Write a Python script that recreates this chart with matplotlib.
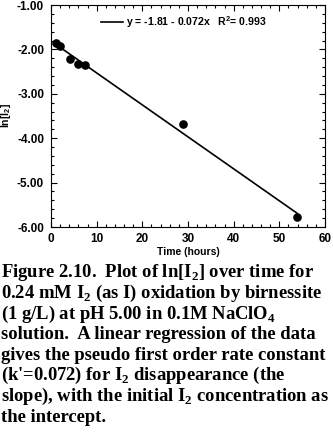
import matplotlib
matplotlib.use("Agg")
import matplotlib.pyplot as plt
import numpy as np
from matplotlib.ticker import MultipleLocator, FormatStrFormatter
from matplotlib.lines import Line2D

# Data
time_h = [1.0, 2.0, 4.2, 6.0, 7.4, 29.0, 53.9]
ln_i2 = [-1.86, -1.93, -2.22, -2.33, -2.36, -3.68, -5.78]
intercept = -1.81
slope = -0.072
fit_x = [1.0, 53.9]
legend_label = "y = -1.81 - 0.072x   R$^\\mathsf{2}$= 0.993"
xticks = [0, 10, 20, 30, 40, 50, 60]
yticks = [-6.0, -5.0, -4.0, -3.0, -2.0, -1.0]

caption_lines = [
    "Figure 2.10.  Plot of ln[I$_\\mathbf{2}$] over time for",
    "0.24 mM I$_\\mathbf{2}$ (as I) oxidation by birnessite",
    "(1 g/L) at pH 5.00 in 0.1M NaClO$_\\mathbf{4}$",
    "solution.  A linear regression of the data",
    "gives the pseudo first order rate constant",
    "(k'=0.072) for I$_\\mathbf{2}$ disappearance (the",
    "slope), with the initial I$_\\mathbf{2}$ concentration as",
    "the intercept.",
]

plt.rcParams['axes.unicode_minus'] = False
plt.rcParams['mathtext.fontset'] = 'custom'
plt.rcParams['mathtext.bf'] = 'Liberation Serif:bold'
plt.rcParams['mathtext.sf'] = 'Liberation Sans:bold'
plt.rcParams['mathtext.rm'] = 'Liberation Sans:bold'

W, H = 333, 437
fig = plt.figure(figsize=(W / 100, H / 100), dpi=100)
ax = fig.add_axes([51 / W, 1 - 227 / H, (325 - 51) / W, (227 - 5) / H])

sans = {'family': 'Liberation Sans', 'weight': 'bold'}

ax.plot(time_h, ln_i2, 'o', color='black', markersize=5.2, zorder=3)
fx = np.array(fit_x)
ax.plot(fx, intercept + slope * fx, color='black', linewidth=1.2)

ax.set_xlim(0, 60)
ax.set_ylim(-6, -1)
ax.set_xticks(xticks)
ax.set_yticks(yticks)
ax.xaxis.set_minor_locator(MultipleLocator(2))
ax.yaxis.set_minor_locator(MultipleLocator(0.2))
ax.yaxis.set_major_formatter(FormatStrFormatter('%.2f'))
ax.xaxis.set_major_formatter(FormatStrFormatter('%d'))
ax.tick_params(which='both', direction='in', top=True, right=True, width=0.8)
ax.tick_params(which='major', length=4)
ax.tick_params(which='minor', length=2)
ax.tick_params(axis='y', pad=5)
ax.tick_params(axis='x', pad=4)
for lbl in ax.get_xticklabels() + ax.get_yticklabels():
    lbl.set_fontfamily('Liberation Sans')
    lbl.set_fontweight('bold')
    lbl.set_fontsize(8.5)
for s in ax.spines.values():
    s.set_linewidth(0.8)

ax.set_xlabel('Time (hours)', fontsize=7.5, labelpad=2, **sans)
ax.set_ylabel('ln[I$_\\mathsf{2}$]', fontsize=7.5, labelpad=3, **sans)

handle = Line2D([], [], color='black', linewidth=1.2)
leg = ax.legend([handle], [legend_label], loc='upper left',
                bbox_to_anchor=((101 - 51) / 274, (227 - 14) / 222),
                frameon=False, borderpad=0, borderaxespad=0,
                handlelength=2.1, handletextpad=0.3,
                prop={'family': 'Liberation Sans', 'weight': 'bold', 'size': 7.6})

baselines = [277, 298, 319, 339, 360, 380, 401, 422]
for line, b in zip(caption_lines, baselines):
    fig.text(1 / W, 1 - b / H, line, fontsize=13.4, va='baseline', ha='left',
             family='Liberation Serif', weight='bold')

fig.savefig('out.png', dpi=100)
